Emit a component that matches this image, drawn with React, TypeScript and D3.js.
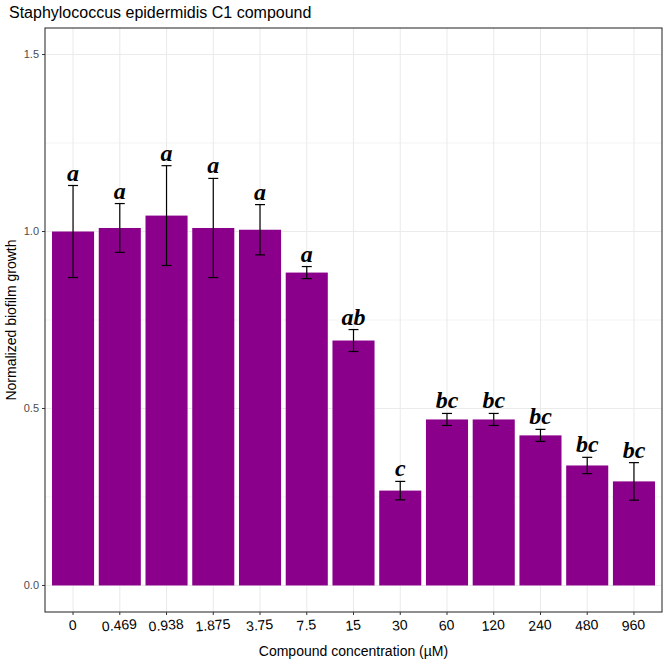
import React from "react";
import * as d3 from "d3";

const categories = ["0","0.469","0.938","1.875","3.75","7.5","15","30","60","120","240","480","960"];
const means = [1.0,1.01,1.045,1.01,1.005,0.884,0.692,0.268,0.469,0.469,0.424,0.339,0.294];
const errs = [0.13,0.069,0.141,0.14,0.071,0.017,0.031,0.026,0.017,0.017,0.017,0.023,0.053];
const letters = ["a","a","a","a","a","a","ab","c","bc","bc","bc","bc","bc"];
const yTicks = [0, 0.5, 1.0, 1.5];

export default function App() {
  const W = 667, H = 665;
  const L = 45, R = 662, T = 28, B = 612;
  const y = d3.scaleLinear().domain([-0.075, 1.575]).range([B, T]);
  const unit = (R - L) / (categories.length + 0.2);
  const cx = (i: number) => L + unit * (0.6 + i);
  const minors = [0.25, 0.75, 1.25];
  return (
    <svg width={W} height={H} style={{ position: "absolute", left: 0, top: 0, fontFamily: "Liberation Sans, Arial, sans-serif" }}>
      <rect width={W} height={H} fill="white" />
      {minors.map(v => <line key={"m"+v} x1={L} x2={R} y1={y(v)} y2={y(v)} stroke="#ebebeb" strokeWidth={0.6} />)}
      {yTicks.map(v => <line key={"g"+v} x1={L} x2={R} y1={y(v)} y2={y(v)} stroke="#ebebeb" strokeWidth={1.1} />)}
      {categories.map((c, i) => <line key={"v"+c} x1={cx(i)} x2={cx(i)} y1={T} y2={B} stroke="#ebebeb" strokeWidth={1.1} />)}
      {means.map((m, i) => (
        <rect key={"b"+i} x={cx(i) - unit * 0.45} width={unit * 0.9} y={y(m)} height={y(0) - y(m)} fill="#8b008b" />
      ))}
      {means.map((m, i) => (
        <g key={"e"+i} stroke="black" strokeWidth={1.2}>
          <line x1={cx(i)} x2={cx(i)} y1={y(m + errs[i])} y2={y(m - errs[i])} />
          <line x1={cx(i) - 5} x2={cx(i) + 5} y1={y(m + errs[i])} y2={y(m + errs[i])} />
          <line x1={cx(i) - 5} x2={cx(i) + 5} y1={y(m - errs[i])} y2={y(m - errs[i])} />
        </g>
      ))}
      {means.map((m, i) => (
        <text key={"l"+i} x={cx(i)} y={y(m + errs[i]) - 5} textAnchor="middle" fontFamily="Liberation Serif, serif" fontWeight="bold" fontStyle="italic" fontSize={24}>{letters[i]}</text>
      ))}
      <rect x={L} y={T} width={R - L} height={B - T} fill="none" stroke="#333" strokeWidth={1.1} />
      {yTicks.map(v => (
        <g key={"t"+v}>
          <line x1={L - 3} x2={L} y1={y(v)} y2={y(v)} stroke="#333" />
          <text x={L - 6} y={y(v)} dy="0.35em" textAnchor="end" fontSize={11} fill="#4d4d4d">{v.toFixed(1)}</text>
        </g>
      ))}
      {categories.map((c, i) => (
        <g key={"x"+c}>
          <line x1={cx(i)} x2={cx(i)} y1={B} y2={B + 3} stroke="#333" />
          <text transform={`translate(${cx(i)},${B + 18}) rotate(-5)`} textAnchor="middle" fontSize={14} fill="black">{c}</text>
        </g>
      ))}
      <text x={(L + R) / 2} y={656} textAnchor="middle" fontSize={14}>Compound concentration (µM)</text>
      <text transform={`translate(16,${(T + B) / 2}) rotate(-90)`} textAnchor="middle" fontSize={14}>Normalized biofilm growth</text>
      <text x={9} y={18} fontSize={16}>Staphylococcus epidermidis C1 compound</text>
    </svg>
  );
}
